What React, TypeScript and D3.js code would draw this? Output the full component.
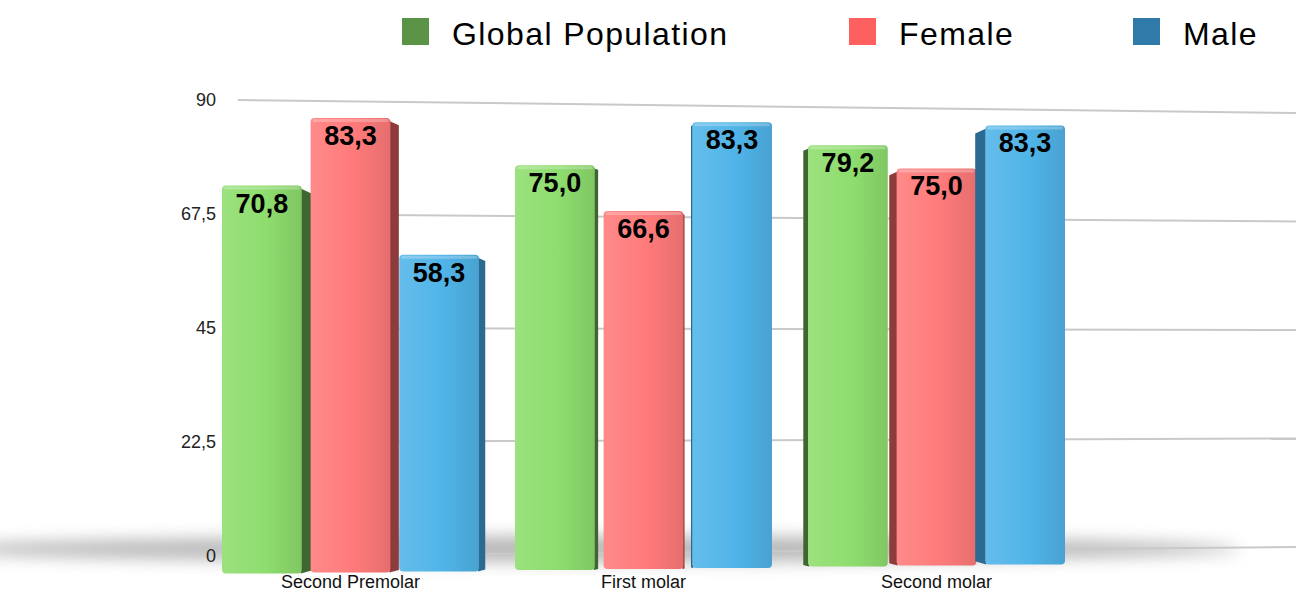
import React from "react";
import * as d3 from "d3";

const categories = ["Second Premolar", "First molar", "Second molar"];
const series = ["Global Population", "Female", "Male"];
const globalValues = [70.8, 75.0, 79.2];
const femaleValues = [83.3, 66.6, 75.0];
const maleValues = [58.3, 83.3, 83.3];
const yTicks = [0, 22.5, 45, 67.5, 90];

const W = 1296;
const H = 592;

const barColors = ["#8edd6e", "#ff7a7a", "#50b4e8"];
const sideColors = ["#3f6532", "#8e3b3b", "#2b6a92"];
const legendColors = ["#5b9447", "#fe5f5f", "#2f7aa8"];
const legendX = [402, 849, 1133];

const fmt = (v: number) => v.toFixed(1).replace(".", ",");

export default function App() {
  const valuesBySeries = [globalValues, femaleValues, maleValues];

  // groups and bars, front plane
  const x0 = d3.scaleBand<string>().domain(categories).range([222, 1065]).paddingInner(0.123);
  const x1 = d3.scaleBand<string>().domain(series).range([0, x0.bandwidth()]).paddingInner(0.1);

  // front plane recedes slightly to the right
  const yFrontL = d3.scaleLinear().domain([0, 90]).range([574, 574 - 90 * 5.49]);
  const yFrontR = d3.scaleLinear().domain([0, 90]).range([564, 564 - 90 * 5.26]);
  const tFront = d3.scaleLinear().domain([222, 1057]).range([0, 1]);
  const yFront = (v: number, x: number) => d3.interpolateNumber(yFrontL(v), yFrontR(v))(tFront(x));

  // back wall gridlines
  const gridL = d3.scaleLinear().domain([0, 90]).range([556, 100]);
  const gridR = d3.scaleLinear().domain([0, 90]).range([547, 113]);
  const gridX0 = 238;

  const camX = 690;

  const bars = categories.flatMap((c, ci) =>
    series.map((s, si) => {
      const v = valuesBySeries[si][ci];
      const x = (x0(c) as number) + (x1(s) as number);
      const w = x1.bandwidth();
      const cx = x + w / 2;
      const top = yFront(v, cx);
      const bottom = yFront(0, cx);
      const sw = cx < camX ? (camX - cx) * 0.025 : (cx - camX) * 0.03;
      return { c, s, si, v, x, w, cx, top, bottom, sw, right: cx < camX };
    })
  );

  return (
    <svg width={W} height={H} style={{ position: "absolute", left: 0, top: 0, background: "#fff" }}
      fontFamily="'Liberation Sans', Arial, Helvetica, sans-serif">
      <defs>
        <filter id="blur" x="-20%" y="-200%" width="140%" height="500%">
          <feGaussianBlur stdDeviation="8" />
        </filter>
        {barColors.map((col, i) => (
          <linearGradient key={i} id={`g${i}`} x1="0" x2="1" y1="0" y2="0">
            <stop offset="0" stopColor={d3.interpolateRgb(col, "#fff")(0.12)} />
            <stop offset="0.55" stopColor={col} />
            <stop offset="1" stopColor={d3.interpolateRgb(col, "#000")(0.1)} />
          </linearGradient>
        ))}
      </defs>

      {/* floor shadow */}
      <ellipse cx={590} cy={549} rx={650} ry={13} fill="#8a8a8a" opacity={0.6} filter="url(#blur)" />

      {/* gridlines */}
      {yTicks.map((t) => (
        <line key={t} x1={gridX0} x2={W} y1={gridL(t)} y2={gridR(t)} stroke="#c9c9c9" strokeWidth={2} />
      ))}
      {yTicks.map((t) => (
        <text key={t} x={216} y={gridL(t) + 6} textAnchor="end" fontSize={18} fill="#222">
          {String(t).replace(".", ",")}
        </text>
      ))}

      {/* bars */}
      {bars.map((b, i) => {
        const sidePts = b.right
          ? [[b.x + b.w - 1, b.top + 3], [b.x + b.w + b.sw, b.top + 3 + b.sw * 0.5], [b.x + b.w + b.sw, b.bottom - b.sw * 0.3], [b.x + b.w - 1, b.bottom]]
          : [[b.x + 1, b.top + 3], [b.x - b.sw, b.top + 3 + b.sw * 0.5], [b.x - b.sw, b.bottom - b.sw * 0.3], [b.x + 1, b.bottom]];
        return (
          <g key={i}>
            <polygon points={sidePts.map((p) => p.join(",")).join(" ")} fill={sideColors[b.si]} />
            <rect x={b.x} y={b.top} width={b.w} height={b.bottom - b.top} rx={4} fill={`url(#g${b.si})`} />
            <rect x={b.x + 2} y={b.top + 1} width={b.w - 4} height={3} rx={1.5} fill="#fff" opacity={0.25} />
            <text x={b.cx} y={b.top + 27} textAnchor="middle" fontSize={27} fontWeight="bold" fill="#000">
              {fmt(b.v)}
            </text>
          </g>
        );
      })}

      {/* category labels */}
      {categories.map((c) => (
        <text key={c} x={(x0(c) as number) + x0.bandwidth() / 2} y={588} textAnchor="middle" fontSize={18} fill="#111">
          {c}
        </text>
      ))}

      {/* legend */}
      {series.map((s, i) => (
        <g key={s}>
          <rect x={legendX[i]} y={18} width={27} height={27} fill={legendColors[i]} />
          <text x={legendX[i] + 50} y={45} fontSize={32} letterSpacing={1.4} fill="#000">{s}</text>
        </g>
      ))}
    </svg>
  );
}
